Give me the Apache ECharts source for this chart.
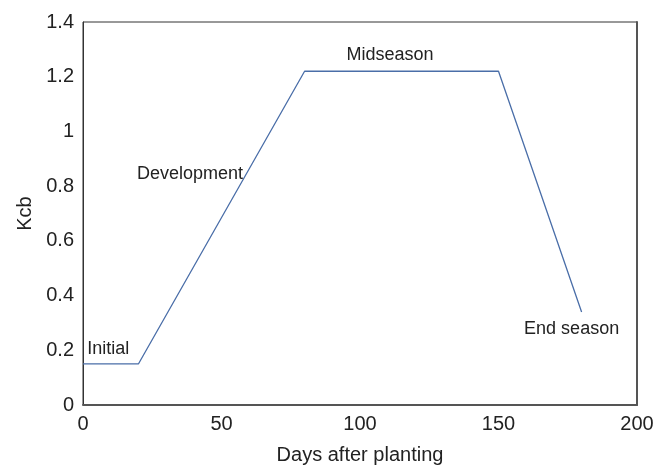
<!DOCTYPE html>
<html>
<head>
<meta charset="utf-8">
<script src="https://cdn.jsdelivr.net/npm/echarts@6/dist/echarts.min.js"></script>
<style>html,body{margin:0;padding:0;background:#fff;}#c{width:665px;height:470px;}</style>
</head>
<body>
<div id="c"></div>
<script>
// Kcb curve vertices (days after planting, Kcb)
var days = [0, 20, 80, 150, 180];
var kcb = [0.15, 0.15, 1.22, 1.22, 0.34];
// Stage annotations
var stageNames = ['Initial', 'Development', 'Midseason', 'End season'];
var stageX = [1.5, 38.6, 110.8, 176.4];
var stageY = [0.203, 0.845, 1.28, 0.277];
var stageAlign = ['left', 'center', 'center', 'center'];
// Axis settings
var xMin = 0, xMax = 200, xStep = 50;
var yMin = 0, yMax = 1.4, yStep = 0.2;

var font = 'Liberation Sans, Arial, sans-serif';
var chart = echarts.init(document.getElementById('c'));
var lineData = days.map(function (d, i) { return [d, kcb[i]]; });
var annData = stageNames.map(function (n, i) {
  return {
    name: n, value: [stageX[i], stageY[i]],
    label: { align: stageAlign[i] }
  };
});
chart.setOption({
  animation: false,
  backgroundColor: '#fff',
  grid: { left: 83, right: 28, top: 22, bottom: 62, show: true, borderColor: '#333', borderWidth: 1, backgroundColor: 'transparent' },
  xAxis: {
    type: 'value', min: xMin, max: xMax, interval: xStep,
    name: 'Days after planting', nameLocation: 'middle', nameGap: 40,
    nameTextStyle: { fontFamily: font, fontSize: 20, color: '#222' },
    axisLine: { show: true, lineStyle: { color: '#555', width: 2 } },
    axisTick: { show: false },
    splitLine: { show: false },
    axisLabel: { fontFamily: font, fontSize: 20, color: '#222', margin: 9 }
  },
  yAxis: [{
    type: 'value', min: yMin, max: yMax, interval: yStep,
    name: 'Kcb', nameLocation: 'middle', nameGap: 48,
    nameTextStyle: { fontFamily: font, fontSize: 20, color: '#222' },
    axisLine: { show: true, lineStyle: { color: '#333', width: 1 } },
    axisTick: { show: false },
    splitLine: { show: false },
    axisLabel: { fontFamily: font, fontSize: 20, color: '#222', margin: 9 }
  }, {
    type: 'value', min: yMin, max: yMax, interval: yStep, position: 'right',
    axisLine: { show: true, lineStyle: { color: '#555', width: 2 } },
    axisTick: { show: false }, axisLabel: { show: false }, splitLine: { show: false }
  }],
  series: [
    {
      type: 'line', data: lineData, symbol: 'none',
      lineStyle: { color: '#4a6ea8', width: 1.3 }
    },
    {
      type: 'scatter', data: annData, symbolSize: 1,
      itemStyle: { color: '#fff', opacity: 0 },
      label: { show: true, position: 'inside', formatter: '{b}', fontFamily: font, fontSize: 18, color: '#222', opacity: 1, textBorderWidth: 0 },
      emphasis: { disabled: true },
      silent: true
    }
  ]
});
</script>
</body>
</html>
